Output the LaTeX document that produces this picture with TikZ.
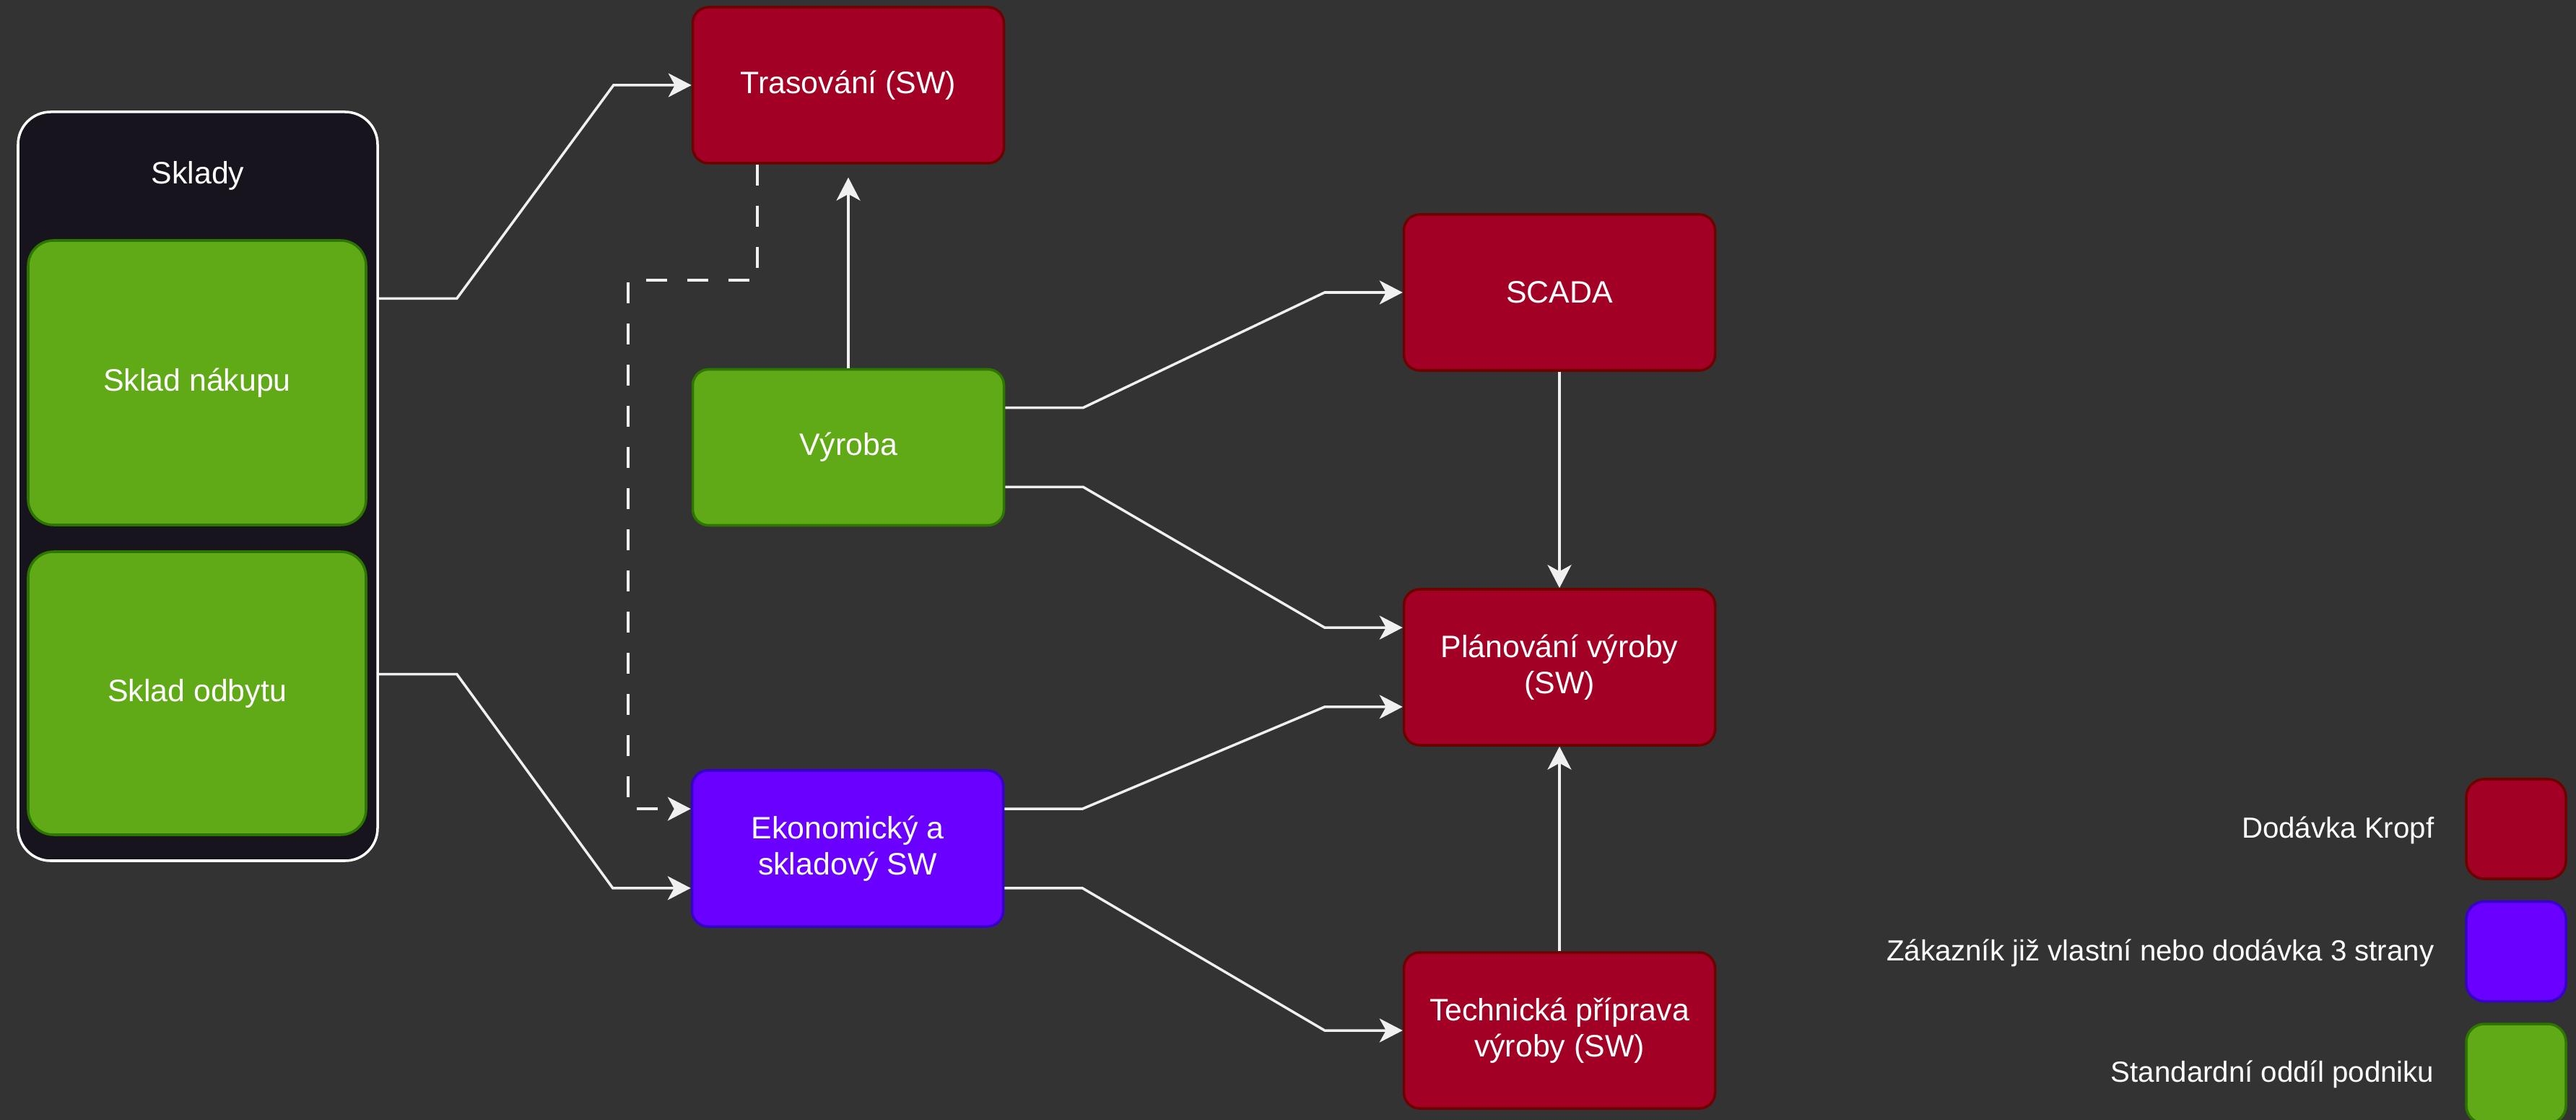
\documentclass[tikz,border=0pt]{standalone}
\usepackage{fontspec}
\setmainfont{Liberation Sans}
\usepackage{tikz}
\usetikzlibrary{shapes,arrows.meta,calc}

\definecolor{pozadi}{HTML}{333333}
\definecolor{kropffill}{HTML}{A20025}
\definecolor{kropfline}{HTML}{6F0000}
\definecolor{cizifill}{HTML}{6A00FF}
\definecolor{ciziline}{HTML}{3700CC}
\definecolor{oddilfill}{HTML}{60A917}
\definecolor{oddilline}{HTML}{2D7600}
\definecolor{skladyfill}{HTML}{18141D}
\definecolor{spoj}{HTML}{F0F0F0}

\begin{document}
\begin{tikzpicture}
        \tikzstyle{every node}+=[inner sep=0pt, text=white, align=center, font=\fontsize{12.2}{14.2}\selectfont]
        \tikzstyle{kropf}=[draw=kropfline, fill=kropffill, line width=1pt, rounded corners=0.22cm, minimum width=4.31cm, minimum height=2.16cm]
        \tikzstyle{cizi}=[kropf, draw=ciziline, fill=cizifill]
        \tikzstyle{oddil}=[kropf, draw=oddilline, fill=oddilfill]
        \tikzstyle{legbox}=[draw, line width=1pt, rounded corners=0.25cm, minimum size=1.38cm]
        \tikzstyle{legtext}=[anchor=east, font=\fontsize{11.45}{13.7}\selectfont]
        \tikzstyle{spojnice}=[draw=spoj, line width=1pt, -{Stealth[length=0.32cm, width=0.33cm, inset=0.09cm]}]
        % pozadi
        \fill [pozadi] (0,0) rectangle (35.68,-15.51);
        \useasboundingbox (0,0) rectangle (35.68,-15.51);
        % sklady
        \node [draw=white, fill=skladyfill, line width=1pt, rounded corners=0.45cm, minimum width=4.98cm, minimum height=10.37cm] (sklady) at (2.74,-6.735) {};
        \node (skladytitul) at (2.74,-2.43) {Sklady};
        \node [oddil, rounded corners=0.35cm, minimum width=4.68cm, minimum height=3.94cm] (nakup) at (2.73,-5.30) {Sklad nákupu};
        \node [oddil, rounded corners=0.35cm, minimum width=4.68cm, minimum height=3.92cm] (odbyt) at (2.73,-9.60) {Sklad odbytu};
        % prostredni sloupec
        \node [kropf] (tras) at (11.75,-1.18) {Trasování (SW)};
        \node [oddil] (vyroba) at (11.75,-6.195) {Výroba};
        \node [cizi] (ekon) at (11.74,-11.75) {Ekonomický a\\skladový SW};
        % pravy sloupec
        \node [kropf] (scada) at (21.60,-4.05) {SCADA};
        \node [kropf] (plan) at (21.60,-9.24) {Plánování výroby\\(SW)};
        \node [kropf] (tech) at (21.60,-14.27) {Technická příprava\\výroby (SW)};
        % legenda
        \node [legbox, draw=kropfline, fill=kropffill] (legkropf) at (34.85,-11.48) {};
        \node [legbox, draw=ciziline, fill=cizifill] (legcizi) at (34.85,-13.175) {};
        \node [legbox, draw=oddilline, fill=oddilfill] (legoddil) at (34.85,-14.87) {};
        \node [legtext] (txtkropf) at (33.72,-11.50) {Dodávka Kropf};
        \node [legtext] (txtcizi) at (33.72,-13.20) {Zákazník již vlastní nebo dodávka 3 strany};
        \node [legtext] (txtoddil) at (33.72,-14.88) {Standardní oddíl podniku};
        % body pripojeni
        \coordinate (skl1) at ($(sklady.north east)!0.25!(sklady.south east)$);
        \coordinate (skl3) at ($(sklady.north east)!0.75!(sklady.south east)$);
        \coordinate (vyr1) at ($(vyroba.north east)!0.25!(vyroba.south east)$);
        \coordinate (vyr3) at ($(vyroba.north east)!0.75!(vyroba.south east)$);
        \coordinate (eko1) at ($(ekon.north east)!0.25!(ekon.south east)$);
        \coordinate (eko3) at ($(ekon.north east)!0.75!(ekon.south east)$);
        \coordinate (ekw1) at ($(ekon.north west)!0.25!(ekon.south west)$);
        \coordinate (ekw3) at ($(ekon.north west)!0.75!(ekon.south west)$);
        \coordinate (pla1) at ($(plan.north west)!0.25!(plan.south west)$);
        \coordinate (pla3) at ($(plan.north west)!0.75!(plan.south west)$);
        \coordinate (trs) at ($(tras.south west)!0.21!(tras.south east)$);
        % spojnice
        \draw [spojnice] (skl1) -- ++(1.08,0) -- ($(tras.west)+(-1.08,0)$) -- (tras.west);
        \draw [spojnice] (skl3) -- ++(1.08,0) -- ($(ekw3)+(-1.08,0)$) -- (ekw3);
        \draw [spojnice, shorten >=0.18cm] (vyroba.north) -- (tras.south);
        \draw [spojnice, dash pattern=on 0.29cm off 0.28cm] (trs) -- ++(0,-1.60) -- ++(-1.79,0) |- (ekw1);
        \draw [spojnice] (vyr1) -- ++(1.08,0) -- ($(scada.west)+(-1.08,0)$) -- (scada.west);
        \draw [spojnice] (vyr3) -- ++(1.08,0) -- ($(pla1)+(-1.08,0)$) -- (pla1);
        \draw [spojnice] (eko1) -- ++(1.08,0) -- ($(pla3)+(-1.08,0)$) -- (pla3);
        \draw [spojnice] (eko3) -- ++(1.08,0) -- ($(tech.west)+(-1.08,0)$) -- (tech.west);
        \draw [spojnice] (scada.south) -- (plan.north);
        \draw [spojnice] (tech.north) -- (plan.south);
\end{tikzpicture}
\end{document}
